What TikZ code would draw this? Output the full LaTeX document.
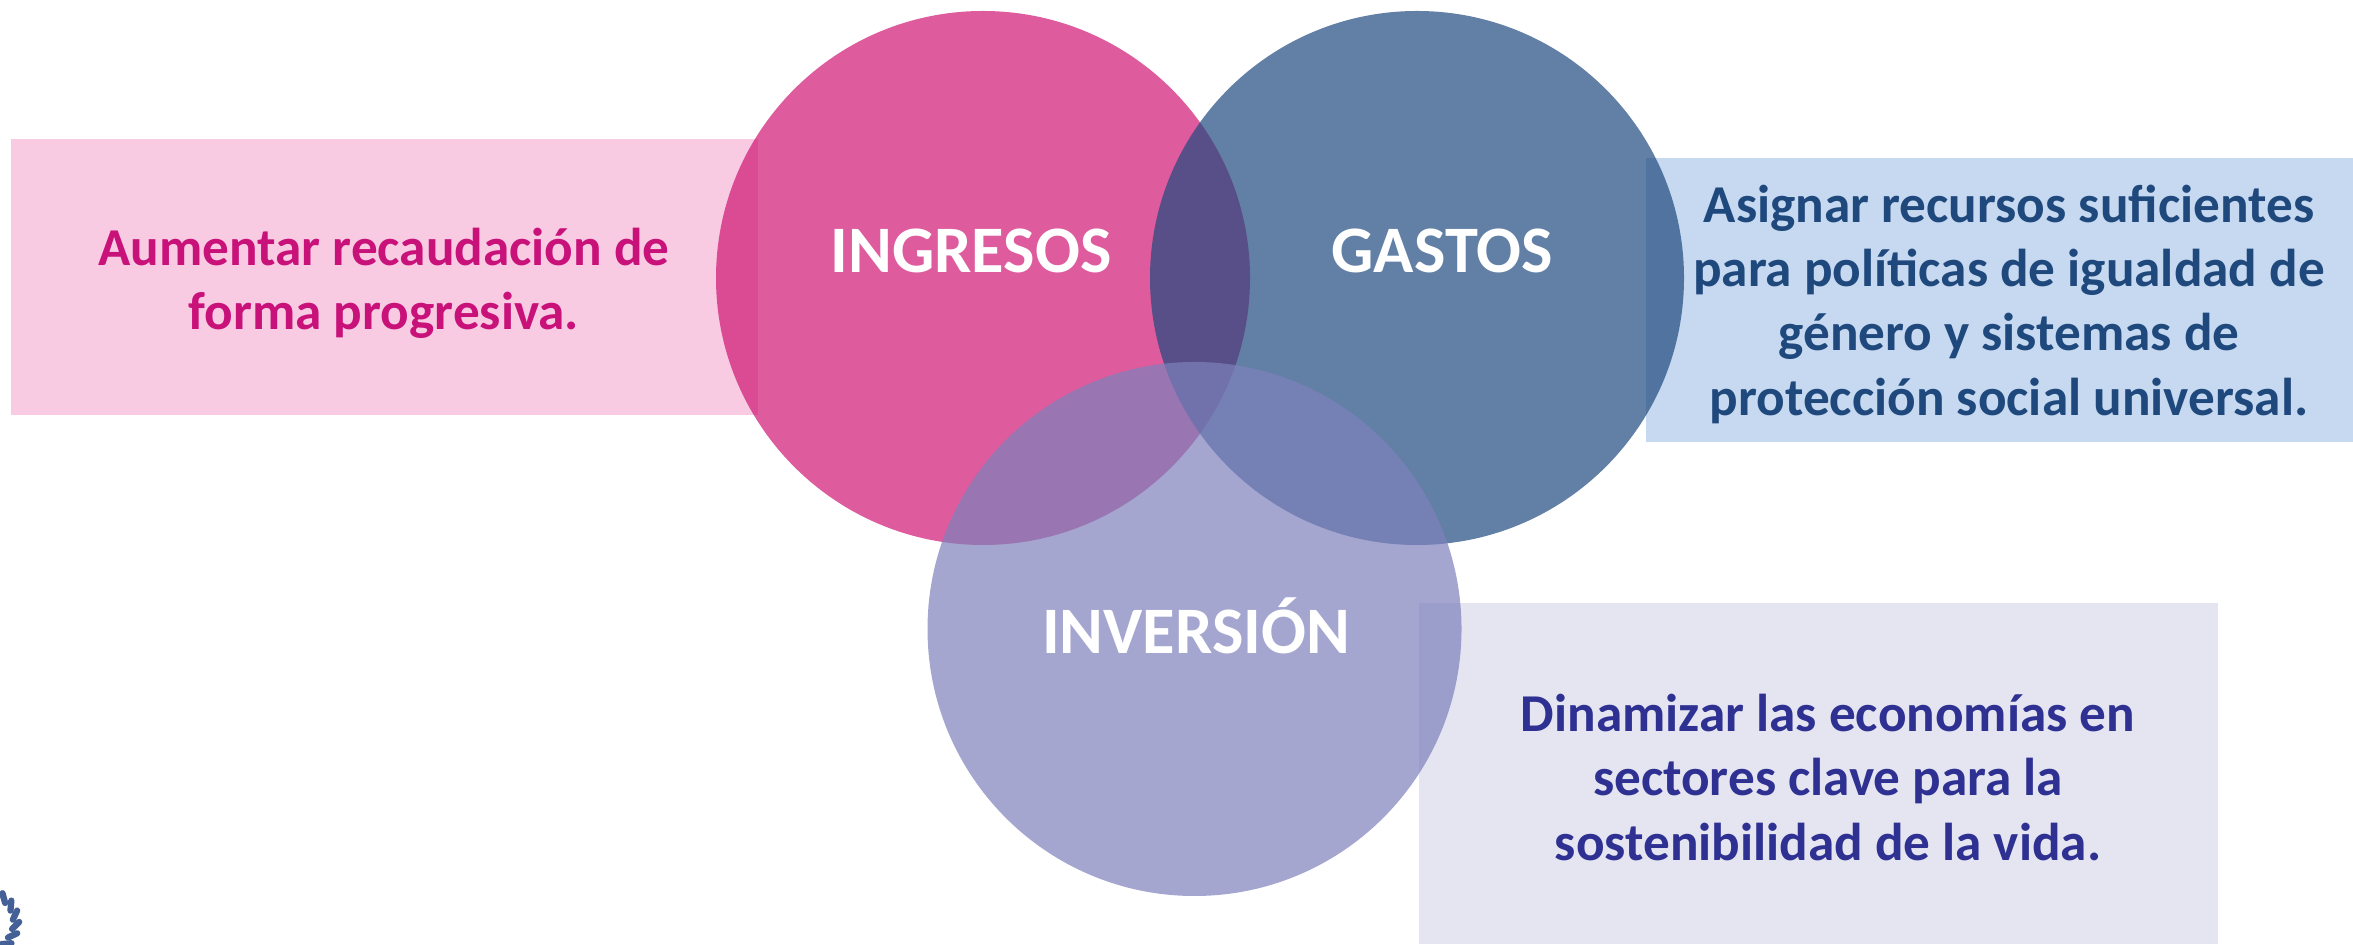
\documentclass[tikz,border=0pt]{standalone}
\usepackage{fontspec}
\setmainfont{Carlito}
\usepackage{tikz}
\usepackage{xcolor}
\definecolor{rosaTexto}{HTML}{C9117A}
\definecolor{azulTexto}{HTML}{1F497D}
\definecolor{moradoTexto}{HTML}{2E3192}
\definecolor{rosaCirculo}{HTML}{D01673}
\definecolor{azulCirculo}{HTML}{1F497F}
\definecolor{moradoCirculo}{HTML}{7D80BB}
\definecolor{rosaCaja}{HTML}{F8CBE3}
\definecolor{azulCaja}{HTML}{C6D9F0}
\definecolor{moradoCaja}{HTML}{E5E5F1}
\tikzset{
	circulo/.style={fill opacity=0.7},
	titulo/.style={text=white,font=\bfseries\fontsize{18.9}{24}\selectfont},
	texto/.style={align=center,font=\bfseries\fontsize{15.15}{18.3}\selectfont}
}

\begin{document}
\begin{tikzpicture}
		\useasboundingbox (0,0) rectangle (23.53,9.44);
		\fill[rosaCaja] (0.11,5.29) rectangle ++(7.47,2.76);
		\fill[azulCaja] (16.46,5.02) rectangle ++(7.07,2.84);
		\fill[moradoCaja] (14.19,0) rectangle ++(7.99,3.41);
		\fill[rosaCirculo,circulo] (9.83,6.66) circle (2.67);
		\fill[azulCirculo,circulo] (14.17,6.66) circle (2.67);
		\fill[moradoCirculo,circulo] (11.945,3.15) circle (2.67);
		\node[titulo] (ingresos) at (9.71,6.93) {INGRESOS};
		\node[titulo] (gastos) at (14.42,6.93) {GASTOS};
		\node[titulo] (inversion) at (11.96,3.18) {INVERSIÓN};
		\node[texto,text=rosaTexto] (meta ingresos) at (3.84,6.61) {Aumentar recaudación de\\forma progresiva.};
		\node[texto,text=azulTexto] (meta gastos) at (20.09,6.40) {Asignar recursos suficientes\\para políticas de igualdad de\\género y sistemas de\\protección social universal.};
		\node[texto,text=moradoTexto] (meta inversion) at (18.28,1.665) {Dinamizar las economías en\\sectores clave para la\\sostenibilidad de la vida.};
		% emblema cortado en la esquina
		\foreach \a in {-75,-55,...,65}
			\draw[azulCirculo!60!moradoCirculo,line width=1.8pt,line cap=round] ({-0.14+0.27*cos(\a)},{0.22+0.27*sin(\a)}) -- ++(\a+60:0.1);
		\end{tikzpicture}
\end{document}
